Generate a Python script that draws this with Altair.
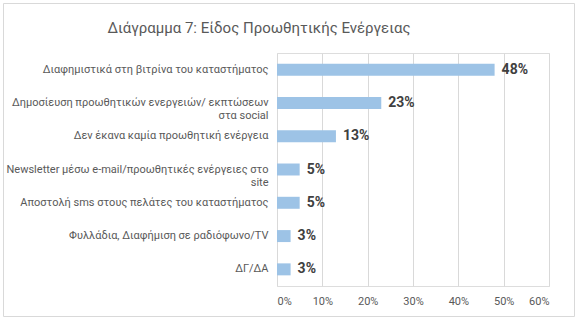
import altair as alt
import pandas as pd

categories = [
    "Διαφημιστικά στη βιτρίνα του καταστήματος",
    "Δημοσίευση προωθητικών ενεργειών/ εκπτώσεων|στα social",
    "Δεν έκανα καμία προωθητική ενέργεια",
    "Newsletter μέσω e-mail/προωθητικές ενέργειες στο|site",
    "Αποστολή sms στους πελάτες του καταστήματος",
    "Φυλλάδια, Διαφήμιση σε ραδιόφωνο/TV",
    "ΔΓ/ΔΑ",
]
values = [0.48, 0.23, 0.13, 0.05, 0.05, 0.03, 0.03]
title_text = "Διάγραμμα 7: Είδος Προωθητικής Ενέργειας"

df = pd.DataFrame({"cat": categories, "val": values})

FONT = "Roboto"
GREY = "#595959"

y_enc = alt.Y(
    "cat:N",
    sort=categories,
    title=None,
    scale=alt.Scale(paddingInner=0.64, paddingOuter=0.32),
    axis=alt.Axis(
        labelExpr="split(datum.label, '|')",
        labelFont=FONT,
        labelFontSize=11,
        labelColor=GREY,
        labelPadding=9,
        labelLineHeight=13,
        labelLimit=300,
        ticks=False,
        domain=False,
        grid=False,
    ),
)
x_enc = alt.X(
    "val:Q",
    title=None,
    scale=alt.Scale(domain=[0, 0.6], nice=False),
    axis=alt.Axis(
        format=".0%",
        values=[0, 0.1, 0.2, 0.3, 0.4, 0.5, 0.6],
        labelFont=FONT,
        labelFontSize=11,
        labelColor=GREY,
        labelPadding=9,
        ticks=False,
        domain=False,
        grid=True,
        gridColor="#d9d9d9",
        gridWidth=1,
    ),
)

base = alt.Chart(df)
bars = base.mark_bar(color="#9DC3E6").encode(x=x_enc, y=y_enc)
labels = base.mark_text(
    align="left", baseline="middle", dx=7, font=FONT, fontSize=14,
    fontWeight="bold", color="#404040"
).encode(x="val:Q", y=alt.Y("cat:N", sort=categories), text=alt.Text("val:Q", format=".0%"))

frame = alt.Chart(pd.DataFrame({"a": [0]})).mark_rect(
    fill=None, stroke="#d9d9d9", strokeWidth=1
).encode(
    x=alt.value(-273.5), x2=alt.value(297.5),
    y=alt.value(-49.5), y2=alt.value(263.5),
)

chart = alt.layer(frame, bars, labels).properties(
    width=272,
    height=233,
    title=alt.TitleParams(
        title_text, font=FONT, fontSize=15, fontWeight="normal",
        color=GREY, anchor="middle", dx=-154, offset=-33,
    ),
    autosize=alt.AutoSizeParams(type="none"),
    padding={"left": 277, "top": 53, "right": 31, "bottom": 36},
).configure_view(stroke=None).configure(background="white")

chart.save("out.html", embed_options={"renderer": "svg", "actions": False})
